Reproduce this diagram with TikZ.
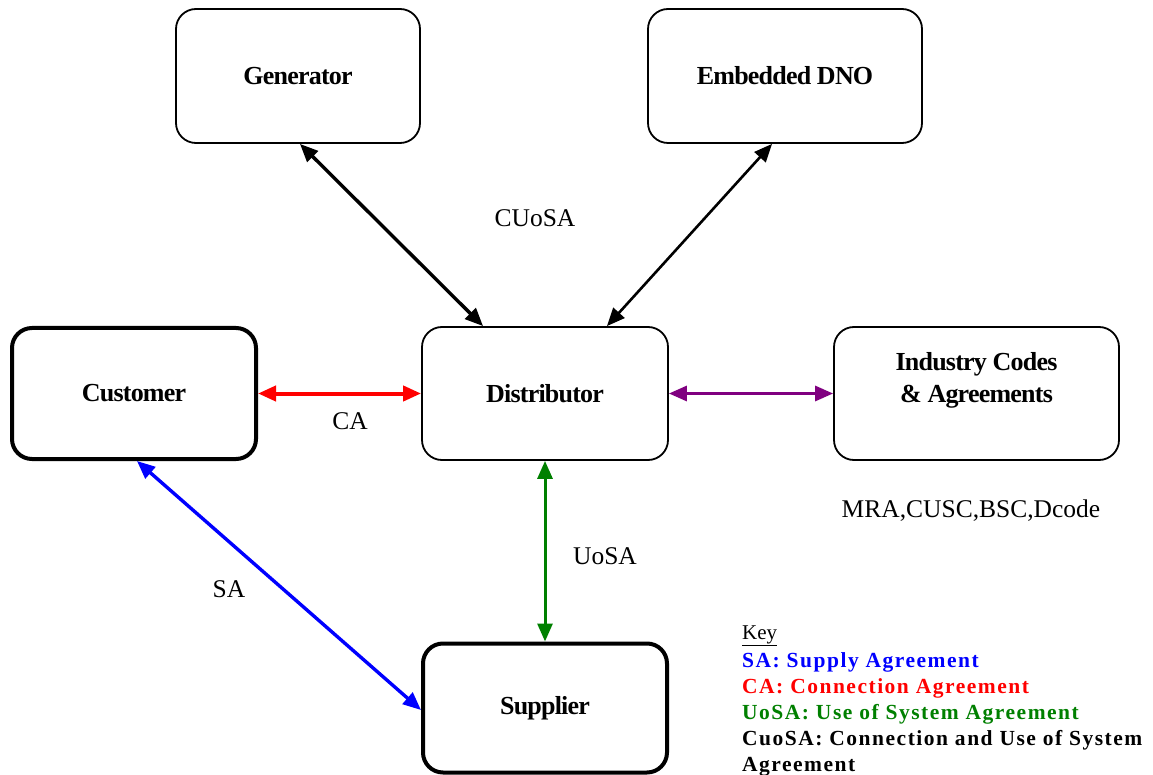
\documentclass[tikz,border=0pt]{standalone}
\usepackage{fontspec}
\setmainfont{Liberation Serif}
\usetikzlibrary{arrows.meta,calc}
\definecolor{kblue}{RGB}{0,0,255}
\definecolor{kred}{RGB}{255,0,0}
\definecolor{kgreen}{RGB}{0,128,0}
\definecolor{kpurple}{RGB}{128,0,128}
\begin{document}
\begin{tikzpicture}[x=1pt,y=-1pt,
  box/.style={draw, rounded corners=20pt, line width=1.8pt, align=center, inner sep=0pt,
    font=\fontsize{26}{32}\selectfont\bfseries\addfontfeature{LetterSpace=-3}},
  heavybox/.style={box, line width=4pt},
  link/.style={line width=3pt, {Triangle[length=18pt,width=15pt]}-{Triangle[length=18pt,width=15pt]}},
  lbl/.style={font=\fontsize{25.5}{30}\selectfont, inner sep=0pt},
  keyline/.style={anchor=base west, inner sep=0pt,
    font=\fontsize{21.5}{26}\selectfont\bfseries\addfontfeature{LetterSpace=7}}]
\clip (0,0) rectangle (1153,775);
\useasboundingbox (0,0) rectangle (1153,775);
\fill[white] (0,0) rectangle (1153,775);

\node[box, minimum width=244pt, minimum height=134pt] (gen) at (298,76) {Generator};
\node[box, minimum width=274pt, minimum height=134pt] (dno) at (785,76) {Embedded DNO};
\node[heavybox, minimum width=244pt, minimum height=131pt] (cust) at (134,393.5) {Customer};
\node[box, minimum width=246pt, minimum height=133pt] (dist) at (545,393.5) {Distributor};
\node[box, minimum width=285pt, minimum height=133pt] (ind) at (976.5,393.5) {Industry Codes\\\& Agreements\\~};
\node[heavybox, minimum width=244pt, minimum height=129pt] (supp) at (545,708) {Supplier};

\coordinate (g1) at ($(gen.south west)!0.508!(gen.south east)$);
\coordinate (d1) at ($(dist.north west)!0.25!(dist.north east)$);
\coordinate (n1) at ($(dno.south west)!0.453!(dno.south east)$);
\coordinate (d2) at ($(dist.north west)!0.75!(dist.north east)$);
\coordinate (c1) at ($(cust.south west)!0.512!(cust.south east)$);
\coordinate (s1) at ($(supp.west)+(0,2)$);

\draw[link, line width=3.4pt] (g1) -- (d1);
\draw[link, line width=2.6pt] (n1) -- (d2);
\draw[link, kred, line width=4pt] (cust.east) -- (dist.west);
\draw[link, kpurple] (dist.east) -- (ind.west);
\draw[link, kgreen] (dist.south) -- (supp.north);
\draw[link, kblue, line width=3.4pt] (c1) -- (s1);

\node[lbl] (lcuosa) at (535,218) {CUoSA};
\node[lbl] (lca) at (350,421) {CA};
\node[lbl] (luosa) at (605,556) {UoSA};
\node[lbl] (lsa) at (229,589) {SA};
\node[lbl] (lmra) at (971,511) {MRA,CUSC,BSC,Dcode};

\node[anchor=base west, inner sep=0pt, font=\fontsize{21}{26}\selectfont] (key) at (742,639) {\underline{Key}};
\node[keyline, kblue] (k1) at (742,667) {SA: Supply Agreement};
\node[keyline, kred] (k2) at (742,693) {CA: Connection Agreement};
\node[keyline, kgreen] (k3) at (742,719) {UoSA: Use of System Agreement};
\node[keyline] (k4) at (742,745) {CuoSA: Connection and Use of System};
\node[keyline] (k5) at (742,771) {Agreement};
\end{tikzpicture}
\end{document}
